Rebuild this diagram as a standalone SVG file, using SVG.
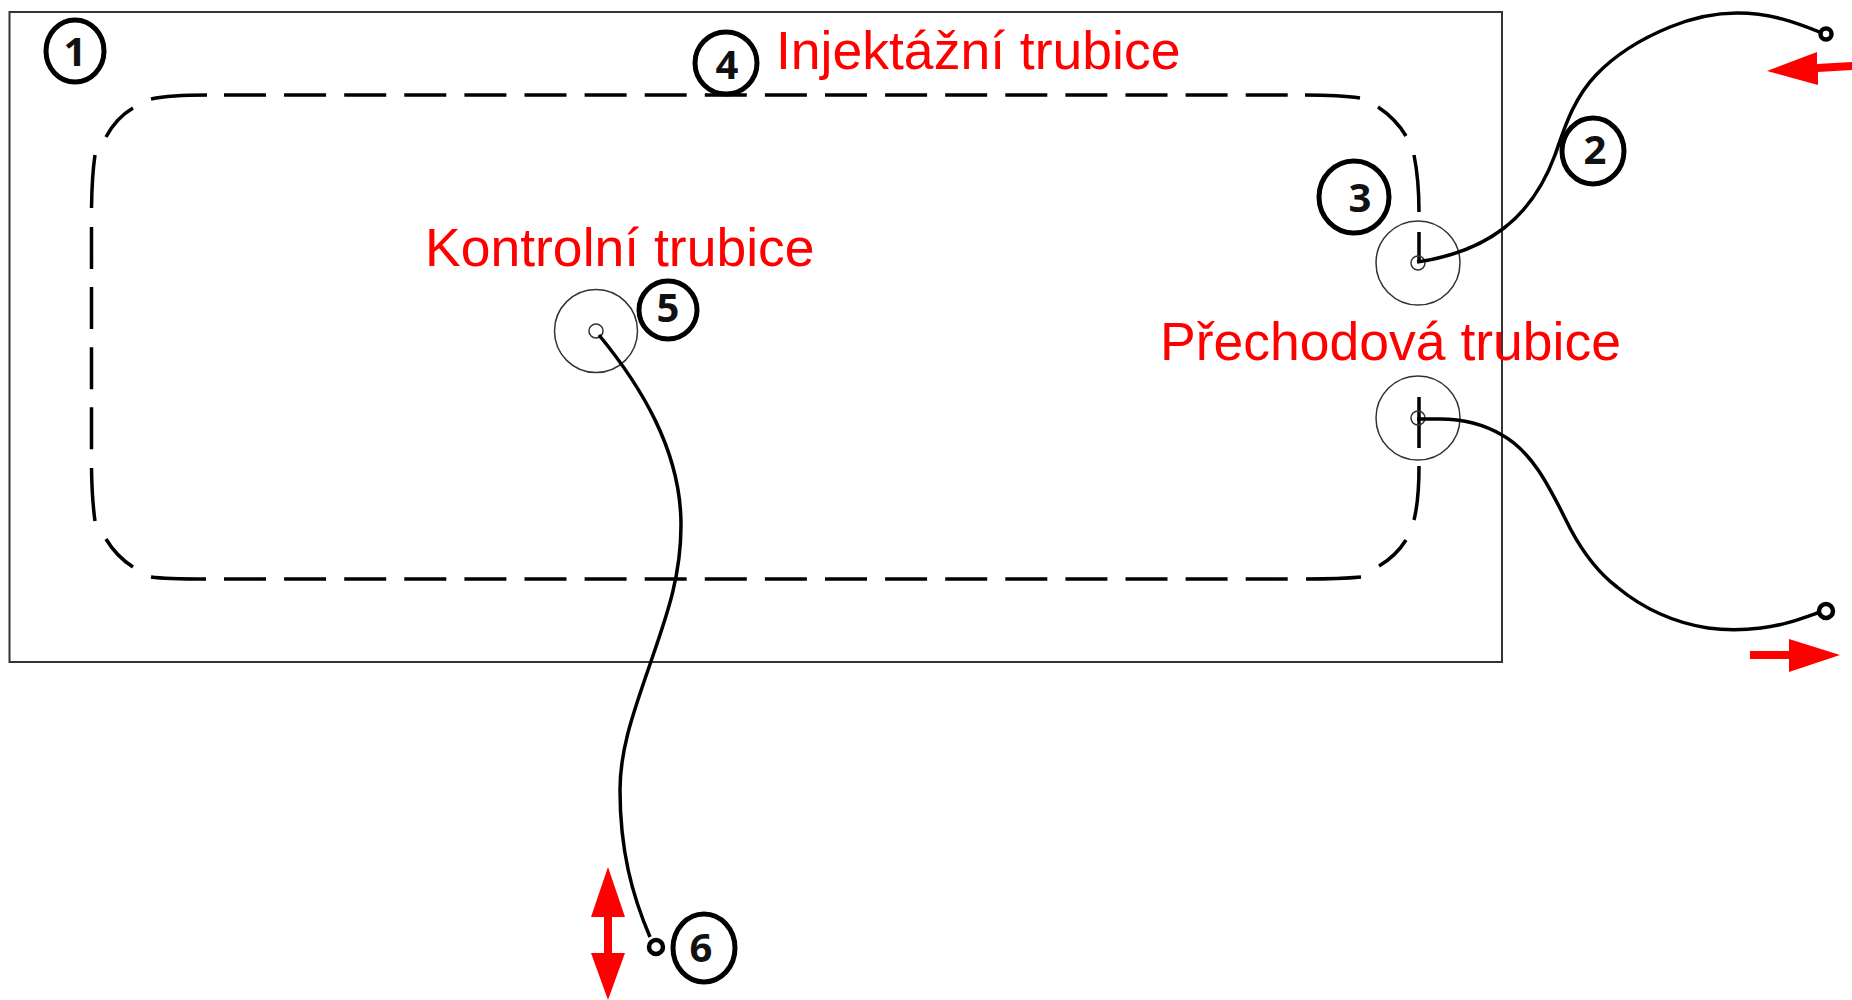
<svg xmlns="http://www.w3.org/2000/svg" width="1852" height="1000" viewBox="0 0 1852 1000">
<style>
.frame{fill:none;stroke:#333;stroke-width:2}
.loop{fill:none;stroke:#000;stroke-width:3.5}
.dashed{stroke-dasharray:42 18.1}
.tube{fill:none;stroke:#000;stroke-width:3.5}
.port{fill:none;stroke:#333;stroke-width:1.5}
.end{fill:#fff;stroke:#000;stroke-width:4.5}
.badge{fill:#fff;stroke:#000;stroke-width:5}
.num{font-family:"Open Sans","Liberation Sans",sans-serif;font-weight:700;font-size:40px;text-anchor:middle;fill:#111}
.lbl{font-family:"Liberation Sans",Arial,sans-serif;font-size:53.5px;fill:#f00}
.red{fill:#f00}
</style>
<rect id="frame" class="frame" x="9.5" y="12" width="1492.5" height="650"/>
<g id="injection-loop">
<path class="loop dashed" d="M224 95H1290"/>
<path class="loop dashed" d="M224 579H1290"/>
<path class="loop dashed" d="M91.5 227V450"/>
<path class="loop" d="M151 99Q170 95 207 95M133 108Q116 118 106 137M95 155Q92 175 91.5 208M91.5 468Q92 500 95 521M106 539Q116 556 133 567M151 577Q165 579 206 579"/>
<path class="loop" d="M1305 95Q1340 95 1360 98M1378 107Q1396 119 1406 136M1414 155Q1419 180 1419 212M1419 232V262M1419 397V448M1419 466Q1419 500 1414 520M1406 540Q1396 556 1379 566M1306 579Q1340 579 1361 577"/>
</g>
<g id="port-a"><circle class="port" cx="1418" cy="263" r="42"/><circle class="port" cx="1418" cy="263" r="7"/></g>
<g id="port-b"><circle class="port" cx="1418" cy="418" r="42"/><circle class="port" cx="1418" cy="418" r="7"/></g>
<g id="port-c"><circle class="port" cx="596" cy="331" r="41.5"/><circle class="port" cx="596" cy="331" r="7"/></g>
<g id="connectors">
<path class="tube" d="M1417 262C1445 258 1478 248 1504 228C1530 208 1545 182 1555 155C1563 133 1572 100 1596 75C1617 53 1643 38 1670 27C1692 18 1715 13 1737 13C1770 13 1795 22 1822 33"/>
<path class="tube" d="M1417 419H1440C1465 419 1485 425 1502 435C1535 453 1553 495 1571 530C1585 556 1600 574 1617 587C1640 606 1670 622 1708 628C1730 631 1745 630 1761 628C1785 625 1800 619 1820 612"/>
<path class="tube" d="M599 335C640 385 681 450 681 525C681 580 665 620 647 673C633 714 620 750 620 790C620 850 632 895 650 937"/>
</g>
<g id="end-2"><circle class="end" cx="1826" cy="34" r="5.5"/></g>
<g id="end-3"><circle class="end" cx="1826" cy="611" r="7"/></g>
<g id="end-6"><circle class="end" cx="656" cy="947" r="7"/></g>
<g id="arrow-in"><polygon class="red" points="1767,71 1817,52 1817,64 1852,62 1852,70 1818,72 1818,85"/></g>
<g id="arrow-out"><polygon class="red" points="1750,651 1789,651 1789,639 1840,655 1789,672 1789,659 1750,659"/></g>
<g id="arrow-both"><polygon class="red" points="608,867 625,917 612,917 612,953 625,953 608,1000 591,953 604,953 604,917 591,917"/></g>
<g id="n1"><ellipse class="badge" cx="75" cy="51" rx="29" ry="31"/><text class="num" x="75" y="66">1</text></g>
<g id="n2"><ellipse class="badge" cx="1593" cy="151" rx="31" ry="33"/><text class="num" x="1595" y="164">2</text></g>
<g id="n3"><ellipse class="badge" cx="1354" cy="197" rx="35" ry="36"/><text class="num" x="1360" y="212">3</text></g>
<g id="n4"><ellipse class="badge" cx="726" cy="63" rx="31" ry="31"/><text class="num" x="727" y="79">4</text></g>
<g id="n5"><ellipse class="badge" cx="668" cy="310" rx="29" ry="29"/><text class="num" x="668" y="322">5</text></g>
<g id="n6"><ellipse class="badge" cx="704" cy="948" rx="31" ry="34"/><text class="num" x="701" y="962">6</text></g>
<text class="lbl" x="776" y="69">Injektážní trubice</text>
<text class="lbl" x="425" y="266">Kontrolní trubice</text>
<text class="lbl" x="1160" y="360">Přechodová trubice</text>
</svg>
